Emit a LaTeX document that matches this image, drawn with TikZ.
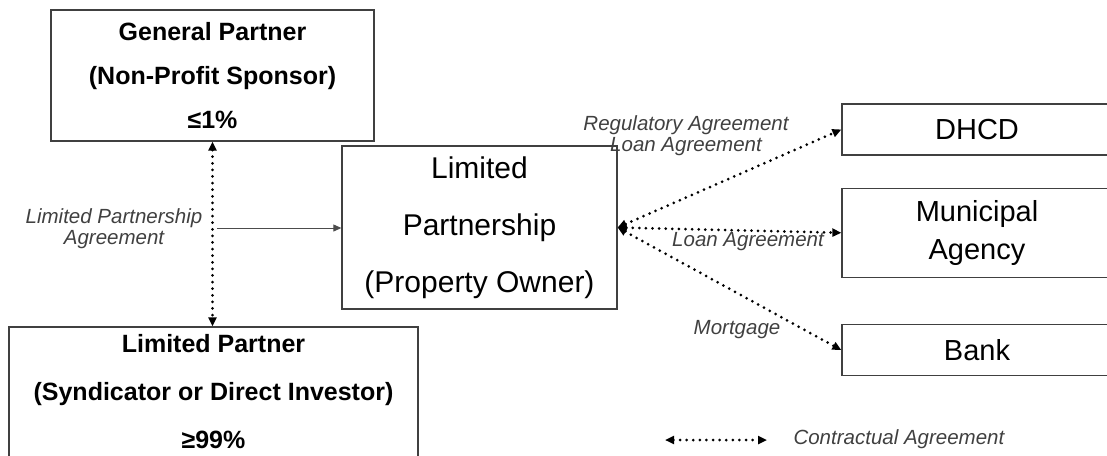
\documentclass[tikz,border=0pt]{standalone}
\usepackage{fontspec}
\setmainfont{Liberation Sans}
\usetikzlibrary{arrows.meta, positioning}

\begin{document}
\begin{tikzpicture}[x=1pt, y=-1pt,
    box/.style={draw=black!75, line width=1.3pt, rectangle, inner sep=0pt, align=center},
    agree/.style={black, line width=3pt, line cap=round, dash pattern=on 0pt off 6.6pt,
        {Triangle[length=9pt,width=8pt]}-{Triangle[length=9pt,width=8pt]}},
    lbl/.style={text=black!75, font=\fontsize{20.5}{21}\selectfont\itshape, align=center}]
    \useasboundingbox (0,0) rectangle (1107,455);

        \node (gp) [box, minimum width=323, minimum height=131, font=\fontsize{25}{44}\selectfont\bfseries] at (212.5,75.5) {General Partner\\(Non-Profit Sponsor)\\≤1\%};
        \node (lp) [box, minimum width=275, minimum height=163, font=\fontsize{30}{57}\selectfont] at (479.5,227.5) {Limited\\Partnership\\(Property Owner)};
        \node (lpart) [box, minimum width=409, minimum height=130, font=\fontsize{25}{48}\selectfont\bfseries] at (213.5,392) {Limited Partner\\(Syndicator or Direct Investor)\\≥99\%};

        \node (dhcd) [box, minimum width=270, minimum height=51, font=\fontsize{29}{35}\selectfont] at (977,129.5) {DHCD};
        \node (muni) [box, minimum width=270, minimum height=89, font=\fontsize{29}{38}\selectfont, below=32pt of dhcd] {Municipal\\Agency};
        \node (bank) [box, minimum width=270, minimum height=51, font=\fontsize{29}{35}\selectfont, below=46pt of muni] {Bank};

        % agreements
        \draw[agree] (gp.south) -- (gp.south |- lpart.north);
        \coordinate (lpa) at (217,228);
        \draw[black!70, line width=1pt, -{Triangle[length=8pt,width=7pt]}] (lpa) -- (lpa -| lp.west);
        \draw[agree] (lp.east) -- (dhcd.west);
        \draw[agree] (lp.east) -- (muni.west);
        \draw[agree] (lp.east) -- (bank.west);

        \node (lpagr) [lbl] at (114,229) {Limited Partnership\\Agreement};
        \node (regagr) [lbl] at (686,136) {Regulatory Agreement\\Loan Agreement};
        \node (loanagr) [lbl] at (748,242) {Loan Agreement};
        \node (mortg) [lbl] at (737,330) {Mortgage};

        % legend
        \coordinate (legl) at (665,440);
        \coordinate (legr) at (767,440);
        \draw[agree] (legl) -- (legr);
        \node (legtxt) [lbl, anchor=west] at (790,439) {Contractual Agreement};
    \end{tikzpicture}
\end{document}
